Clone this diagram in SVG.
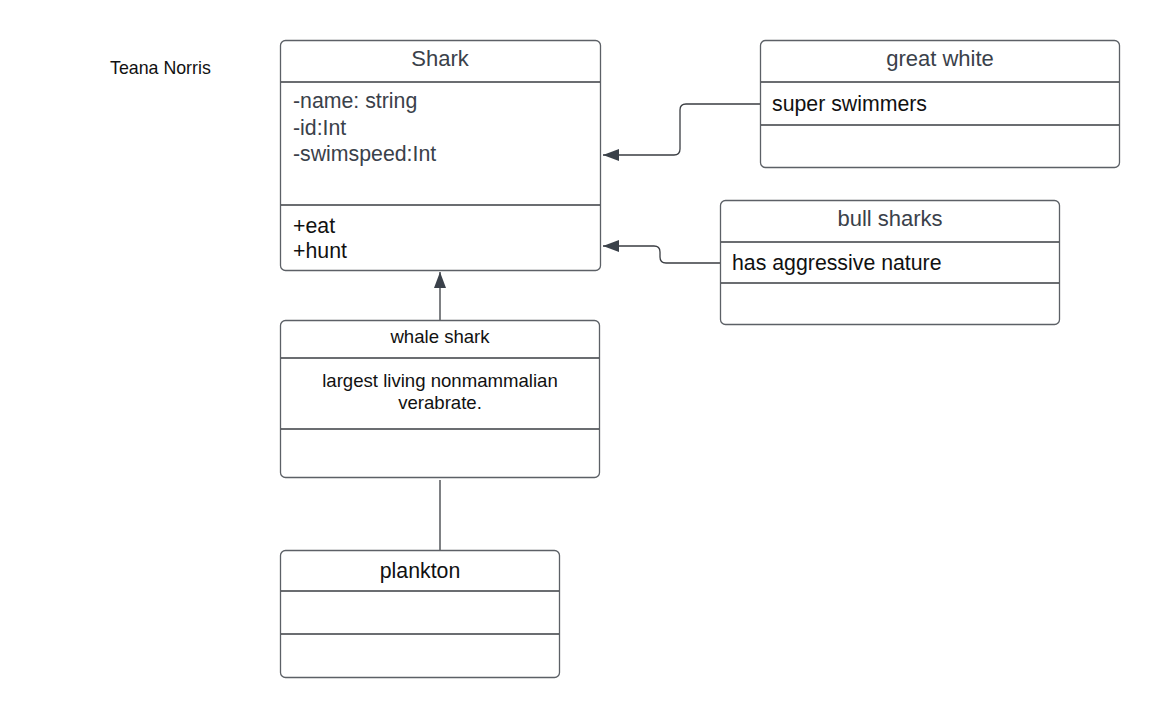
<svg xmlns="http://www.w3.org/2000/svg" width="1160" height="718" viewBox="0 0 1160 718">
<style>
.box{fill:#fff;stroke:#5c6066;stroke-width:1.3}
.ln{stroke:#3a3d42;stroke-width:1.3;fill:none}
.t{font-family:"Liberation Sans",Arial,sans-serif;font-size:22px;fill:#3a414a}
.c{text-anchor:middle}
.k{fill:#111}
.s18{font-size:18.6px}
.s17{font-size:17.8px}
.s21{font-size:21.3px}
.con{stroke:#3a3d42;stroke-width:1.3;fill:none}
</style>
<defs>
<marker id="tri" viewBox="0 0 16 12" refX="16" refY="6" markerWidth="16" markerHeight="12" markerUnits="userSpaceOnUse" orient="auto">
<path d="M0,0 L16,6 L0,12 Z" fill="#3a414a"/>
</marker>
</defs>
<rect width="1160" height="718" fill="#fff"/>
<g id="title"><text class="t k s17" x="110" y="74">Teana Norris</text></g>
<g id="connectors">
<path class="con" d="M760,104 H686 Q680,104 680,110 V149 Q680,155 674,155 H603" marker-end="url(#tri)"/>
<path class="con" d="M720,263 H666 Q660,263 660,257 V252 Q660,246 654,246 H603" marker-end="url(#tri)"/>
<path class="con" d="M440,320 V272" marker-end="url(#tri)"/>
<path class="con" d="M440,550 V480"/>
</g>
<g id="shark">
<rect class="box" x="280.5" y="40.5" width="320" height="230" rx="5"/>
<line class="ln" x1="281" y1="82" x2="600" y2="82"/>
<line class="ln" x1="281" y1="205" x2="600" y2="205"/>
<text class="t c" x="440" y="66">Shark</text>
<text class="t s21" x="293" y="108">-name: string</text>
<text class="t s21" x="293" y="135">-id:Int</text>
<text class="t s21" x="293" y="161">-swimspeed:Int</text>
<text class="t k s21" x="293" y="233">+eat</text>
<text class="t k s21" x="293" y="258">+hunt</text>
</g>
<g id="great-white">
<rect class="box" x="760.5" y="40.5" width="359" height="127" rx="5"/>
<line class="ln" x1="761" y1="82" x2="1119" y2="82"/>
<line class="ln" x1="761" y1="125" x2="1119" y2="125"/>
<text class="t c" x="940" y="66">great white</text>
<text class="t k s21" x="772" y="111">super swimmers</text>
</g>
<g id="bull-sharks">
<rect class="box" x="720.5" y="200.5" width="339" height="124" rx="5"/>
<line class="ln" x1="721" y1="242" x2="1059" y2="242"/>
<line class="ln" x1="721" y1="283" x2="1059" y2="283"/>
<text class="t c" x="890" y="226">bull sharks</text>
<text class="t k s21" x="732" y="270">has aggressive nature</text>
</g>
<g id="whale-shark">
<rect class="box" x="280.5" y="320.5" width="319" height="157" rx="5"/>
<line class="ln" x1="281" y1="358" x2="599" y2="358"/>
<line class="ln" x1="281" y1="429" x2="599" y2="429"/>
<text class="t c k s18" x="440" y="343">whale shark</text>
<text class="t c k s18" x="440" y="387">largest living nonmammalian</text>
<text class="t c k s18" x="440" y="409">verabrate.</text>
</g>
<g id="plankton">
<rect class="box" x="280.5" y="550.5" width="279" height="127" rx="5"/>
<line class="ln" x1="281" y1="591" x2="559" y2="591"/>
<line class="ln" x1="281" y1="634" x2="559" y2="634"/>
<text class="t c k s21" x="420" y="578">plankton</text>
</g>
</svg>
